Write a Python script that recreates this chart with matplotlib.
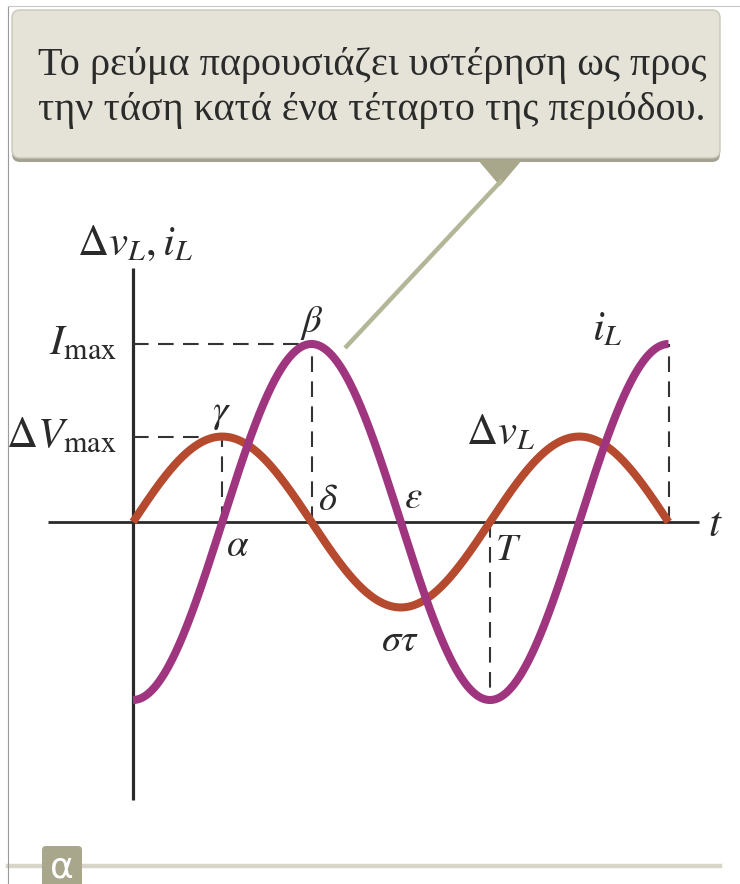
import numpy as np
import matplotlib
matplotlib.use("Agg")
import matplotlib.pyplot as plt
from matplotlib.patches import FancyBboxPatch, Polygon

plt.rcParams["mathtext.fontset"] = "stix"
plt.rcParams["font.family"] = ["Liberation Serif", "DejaVu Serif"]

# inductor in an AC circuit: current lags the voltage by T/4
PERIOD = 1.0
I_MAX = 1.0
DV_MAX = 0.48
T_END = 1.5 * PERIOD

CALLOUT = ("Το ρεύμα παρουσιάζει υστέρηση ως προς\n"
           "την τάση κατά ένα τέταρτο της περιόδου.")
PANEL = "α"
POINT_NAMES = ["α", "β", "γ", "δ", "ε", "στ"]

VOLT_COLOR = "#b64a2f"
CURR_COLOR = "#a0357f"
INK = "#2a2a2a"
BOX_FILL = "#e5e3d7"
TAB_FILL = "#a9a78b"

W, H = 740, 884
fig = plt.figure(figsize=(W / 100, H / 100), dpi=100)
fig.patch.set_facecolor("white")

# decoration layer in pixel units
deco = fig.add_axes([0, 0, 1, 1])
deco.set_xlim(0, W)
deco.set_ylim(H, 0)
deco.axis("off")
deco.plot([8, 8], [6, H], color="#9a9a9a", lw=0.8)
deco.plot([8, 740], [6, 6], color="#c8c8c8", lw=0.8)

shadow = FancyBboxPatch((12, 14), 708, 148, boxstyle="round,pad=0,rounding_size=8",
                        fc="#a3a191", ec="none", zorder=1)
box = FancyBboxPatch((12, 10), 708, 148, boxstyle="round,pad=0,rounding_size=8",
                     fc=BOX_FILL, ec="#c9c7b8", lw=1.0, zorder=2)
deco.add_patch(shadow)
deco.add_patch(box)
deco.text(372, 88, CALLOUT, ha="center", va="center", fontsize=29,
          color="#2b2b2b", linespacing=1.3, zorder=3)
deco.add_patch(Polygon([[478, 160], [522, 160], [500, 186]], closed=True,
                       fc=TAB_FILL, ec="none", zorder=2))
deco.plot([502, 345], [180, 348], color="#b4b698", lw=3.2,
          solid_capstyle="butt", zorder=2)

# panel tab at the bottom
deco.plot([8, 720], [866, 866], color="#d8d6c8", lw=3.2, zorder=1)
tab = FancyBboxPatch((42, 846), 40, 44, boxstyle="round,pad=0,rounding_size=4",
                     fc=TAB_FILL, ec="none", zorder=2)
deco.add_patch(tab)
deco.text(62, 867, PANEL, ha="center", va="center", fontsize=26, color="white",
          family=["DejaVu Sans"], zorder=3)

# plot layer: x in periods, y in units of I_max
ax = fig.add_axes([0, 0, 1, 1])
ax.patch.set_alpha(0)
ax.set_xlim(-133 / 357, 607 / 357)
ax.set_ylim(-362 / 178, 522 / 178)
ax.axis("off")

t = np.linspace(0, T_END, 800)
w = 2 * np.pi / PERIOD
dv = DV_MAX * np.sin(w * t)
il = -I_MAX * np.cos(w * t)

ax.plot([0, 0], [-1.562, 1.427], color=INK, lw=2.3, solid_capstyle="butt")
ax.plot([-0.238, 1.585], [0, 0], color=INK, lw=2.0, solid_capstyle="butt")

dash = dict(color="#333333", lw=1.5, dashes=(7.5, 4.5))
ax.plot([0, PERIOD / 2], [I_MAX, I_MAX], **dash)
ax.plot([PERIOD / 2, PERIOD / 2], [0, I_MAX], **dash)
ax.plot([0, PERIOD / 4], [DV_MAX, DV_MAX], **dash)
ax.plot([PERIOD / 4, PERIOD / 4], [0, DV_MAX], **dash)
ax.plot([PERIOD, PERIOD], [0, -I_MAX], **dash)
ax.plot([T_END, T_END], [0, I_MAX], **dash)

ax.plot(t, dv, color=VOLT_COLOR, lw=5.8, solid_capstyle="butt", zorder=3)
ax.plot(t, il, color=CURR_COLOR, lw=5.8, solid_capstyle="butt", zorder=4)

fs = 31
ax.text(0.006, 1.56, r"$\Delta v_L, i_L$", ha="center", va="center", fontsize=fs, color=INK)
ax.text(-0.045, I_MAX, r"$I_{\mathrm{max}}$", ha="right", va="center", fontsize=fs, color=INK)
ax.text(-0.045, DV_MAX, r"$\Delta V_{\mathrm{max}}$", ha="right", va="center", fontsize=fs, color=INK)
ax.text(1.63, -0.02, r"$t$", ha="center", va="center", fontsize=fs, color=INK)
ax.text(1.05, -0.16, r"$T$", ha="center", va="center", fontsize=fs - 3, color=INK)
ax.text(1.03, 0.50, r"$\Delta v_L$", ha="center", va="center", fontsize=fs, color=INK)
ax.text(1.33, 1.08, r"$i_L$", ha="center", va="center", fontsize=fs, color=INK)

greek_xy = [(0.294, -0.14), (0.501, 1.12), (0.249, 0.61),
            (0.545, 0.12), (0.784, 0.13), (0.748, -0.67)]
for name, (gx, gy) in zip(POINT_NAMES, greek_xy):
    ax.text(gx, gy, "$\\mathit{" + name + "}$", ha="center", va="center",
            fontsize=fs - 3, color=INK)

fig.savefig("out.png", dpi=100)
